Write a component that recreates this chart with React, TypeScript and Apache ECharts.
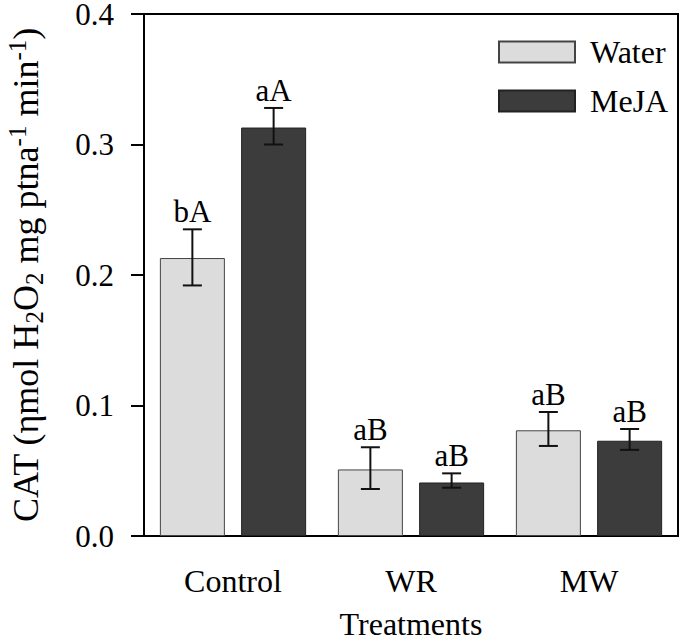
import React, { useEffect, useRef } from 'react';
import * as echarts from 'echarts';

const categories = ['Control', 'WR', 'MW'];
const seriesNames = ['Water', 'MeJA'];
const waterMeans = [0.213, 0.051, 0.081];
const waterErrLow = [0.192, 0.036, 0.069];
const waterErrHigh = [0.235, 0.068, 0.095];
const mejaMeans = [0.313, 0.041, 0.073];
const mejaErrLow = [0.300, 0.037, 0.066];
const mejaErrHigh = [0.328, 0.048, 0.082];
const waterLetters = ['bA', 'aB', 'aB'];
const mejaLetters = ['aA', 'aB', 'aB'];

const FONT = 'Liberation Serif, Times New Roman, serif';

function errorSeries(name: string, lows: number[], highs: number[], letters: string[], offset: number) {
  return {
    type: 'custom',
    name: name + '-err',
    z: 5,
    silent: true,
    data: categories.map((_, i) => [i, lows[i], highs[i]]),
    renderItem: (params: any, api: any) => {
      const ci = api.value(0);
      const lowP = api.coord([ci, api.value(1)]);
      const highP = api.coord([ci, api.value(2)]);
      const x = lowP[0] + offset;
      const cap = 9.5;
      const st = { stroke: '#111', lineWidth: 2 };
      return {
        type: 'group',
        children: [
          { type: 'line', shape: { x1: x, y1: highP[1], x2: x, y2: lowP[1] }, style: st },
          { type: 'line', shape: { x1: x - cap, y1: highP[1], x2: x + cap, y2: highP[1] }, style: st },
          { type: 'line', shape: { x1: x - cap, y1: lowP[1], x2: x + cap, y2: lowP[1] }, style: st },
          {
            type: 'text',
            style: {
              text: letters[ci],
              x: x,
              y: highP[1] - 2,
              align: 'center',
              verticalAlign: 'bottom',
              fontSize: 31,
              fontFamily: FONT,
              fill: '#000',
            },
          },
        ],
      };
    },
  };
}

export default function App() {
  const ref = useRef<HTMLDivElement>(null);
  useEffect(() => {
    if (!ref.current) return;
    const chart = echarts.init(ref.current, undefined, { renderer: 'svg' });
    const off = (65 + 16.25) / 2;
    chart.setOption({
      animation: false,
      backgroundColor: '#fff',
      textStyle: { fontFamily: FONT },
      grid: {
        left: 144,
        right: 7,
        top: 14,
        bottom: 105,
        outerBoundsMode: 'none',
        containLabel: false,
        show: true,
        borderColor: '#000',
        borderWidth: 2,
        backgroundColor: 'transparent',
      },
      legend: {
        data: seriesNames,
        orient: 'vertical',
        left: 493,
        top: 31,
        itemWidth: 76,
        itemHeight: 21,
        itemGap: 17,
        icon: 'rect',
        textStyle: {
          fontSize: 32,
          fontFamily: FONT,
          color: '#000',
          lineHeight: 21,
          padding: [0, 0, 0, 10],
        },
      },
      xAxis: {
        type: 'category',
        data: categories,
        name: 'Treatments',
        nameLocation: 'middle',
        nameGap: 74,
        nameTextStyle: { fontSize: 32, fontFamily: FONT, color: '#000', lineHeight: 28 },
        axisLine: { lineStyle: { color: '#000', width: 2 } },
        axisTick: { alignWithLabel: true, length: 10, lineStyle: { color: '#000', width: 2 } },
        axisLabel: { fontSize: 32, fontFamily: FONT, color: '#000', margin: 29 },
      },
      yAxis: {
        type: 'value',
        min: 0,
        max: 0.4,
        interval: 0.1,
        name: 'CAT (ηmol H{sub|2}O{sub|2} mg ptna{sup|-1} min{sup|-1})',
        nameLocation: 'middle',
        nameRotate: 90,
        nameGap: 97,
        nameTextStyle: {
          fontSize: 36,
          fontFamily: FONT,
          color: '#000',
          lineHeight: 42,
          rich: {
            sub: { fontSize: 25, lineHeight: 26, verticalAlign: 'bottom', fontFamily: FONT, color: '#000' },
            sup: { fontSize: 25, lineHeight: 26, verticalAlign: 'top', fontFamily: FONT, color: '#000' },
          },
        },
        splitLine: { show: false },
        axisLine: { show: true, lineStyle: { color: '#000', width: 2 } },
        axisTick: { show: true, length: 13, lineStyle: { color: '#000', width: 2 } },
        axisLabel: {
          fontSize: 31,
          fontFamily: FONT,
          color: '#000',
          margin: 30,
          lineHeight: 24,
          formatter: (v: number) => v.toFixed(1),
        },
      },
      series: [
        {
          type: 'bar',
          name: 'Water',
          data: waterMeans,
          barWidth: 65,
          barGap: '25%',
          itemStyle: { color: '#dcdcdc', borderColor: '#444', borderWidth: 1 },
        },
        {
          type: 'bar',
          name: 'MeJA',
          data: mejaMeans,
          barWidth: 65,
          barGap: '25%',
          itemStyle: { color: '#3c3c3c', borderColor: '#222', borderWidth: 1 },
        },
        errorSeries('Water', waterErrLow, waterErrHigh, waterLetters, -off),
        errorSeries('MeJA', mejaErrLow, mejaErrHigh, mejaLetters, off),
      ],
    });
    return () => chart.dispose();
  }, []);
  return <div ref={ref} style={{ position: 'fixed', left: 0, top: 0, width: 685, height: 641 }} />;
}
